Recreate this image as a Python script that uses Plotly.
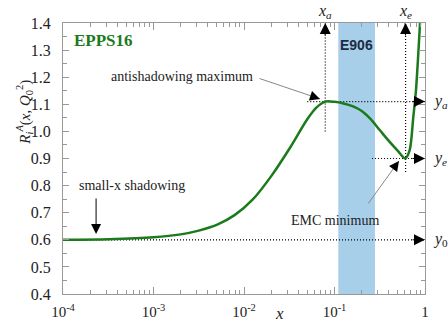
import math
import plotly.graph_objects as go

# ---- data ----
x_vals = [1e-4, 3.16e-4, 1e-3, 2.0e-3, 3.16e-3, 5.0e-3, 7.94e-3, 0.0126, 0.020, 0.0316,
          0.050, 0.063, 0.079, 0.100, 0.126, 0.158, 0.200, 0.251, 0.316, 0.398,
          0.501, 0.603, 0.676, 0.741, 0.794, 0.841, 0.881, 0.902]
r_vals = [0.600, 0.602, 0.609, 0.620, 0.634, 0.655, 0.692, 0.750, 0.835, 0.935,
          1.045, 1.088, 1.110, 1.109, 1.103, 1.093, 1.075, 1.045, 1.005, 0.965,
          0.928, 0.900, 0.930, 1.050, 1.150, 1.280, 1.400, 1.460]
e906_range = [0.11, 0.28]
x_a, y_a = 0.079, 1.11
x_e, y_e = 0.61, 0.90
y_0 = 0.60
x_ticks = [1e-4, 1e-3, 1e-2, 1e-1, 1]
x_ticktext = ["10<sup>-4</sup>", "10<sup>-3</sup>", "10<sup>-2</sup>", "10<sup>-1</sup>", "1"]
x_minor = [m * 10 ** d for d in range(-4, 0) for m in range(2, 10)]

GREEN = "#1b7a1b"
SERIF = "Liberation Serif, Times New Roman, serif"
L = math.log10

fig = go.Figure()

# E906 band
fig.add_shape(type="rect", xref="x", yref="paper", x0=e906_range[0], x1=e906_range[1],
              y0=0, y1=1, fillcolor="#a8cfea", line_width=0, layer="below")

dot = dict(color="black", width=1.2, dash="1px,2px")
# dotted guide lines
fig.add_trace(go.Scatter(x=[1e-4, 1], y=[y_0, y_0], mode="lines", line=dot, hoverinfo="skip"))
fig.add_trace(go.Scatter(x=[0.05, 1], y=[y_a, y_a], mode="lines", line=dot, hoverinfo="skip"))
fig.add_trace(go.Scatter(x=[0.26, 1], y=[y_e, y_e], mode="lines", line=dot, hoverinfo="skip"))
fig.add_trace(go.Scatter(x=[x_a, x_a], y=[1.0, 1.4], mode="lines", line=dot, hoverinfo="skip"))
fig.add_trace(go.Scatter(x=[x_e, x_e], y=[0.85, 1.4], mode="lines", line=dot, hoverinfo="skip"))

# curve
fig.add_trace(go.Scatter(x=x_vals, y=r_vals, mode="lines",
                         line=dict(color=GREEN, width=2.5, shape="spline", smoothing=0.8),
                         hoverinfo="skip"))

ann = []
def arrow(xh, yh, ax, ay, color="black", head=2, size=2.2, axref="pixel"):
    d = dict(x=L(xh), y=yh, xref="x", yref="y", text="", showarrow=True,
             arrowhead=head, arrowsize=size, arrowwidth=1, arrowcolor=color,
             ax=ax, ay=ay, standoff=0)
    if axref == "x":
        d.update(axref="x", ayref="y")
    ann.append(d)

# edge arrowheads
arrow(x_a, 1.4, 0, 14)
arrow(x_e, 1.4, 0, 14)
arrow(1, y_a, -14, 0)
arrow(1, y_e, -14, 0)
arrow(1, y_0, -14, 0)

# pointer arrows: gray shafts, black heads
arrow(0.069, 1.12, L(0.0143), 1.197, color="#888", head=0, axref="x")
arrow(0.069, 1.12, -8, -2.7, size=2.0)
arrow(2.32e-4, 0.621, L(2.32e-4), 0.758, color="black", size=2.0, axref="x")
arrow(0.516, 0.891, L(0.229), 0.728, color="#888", head=0, axref="x")
arrow(0.516, 0.891, -4.8, 6.6, size=2.0)

tf = dict(family=SERIF, size=14, color="#222")
def text(x, y, s, font=tf, **kw):
    d = dict(x=L(x), y=y, xref="x", yref="y", text=s, showarrow=False, font=font)
    d.update(kw)
    ann.append(d)

text(10 ** -2.68, 1.201, "antishadowing maximum")
text(10 ** -3.238, 0.799, "small-x shadowing")
text(10 ** -0.994, 0.673, "EMC minimum")
text(10 ** -0.762, 1.319, "<b>E906</b>", font=dict(family="Liberation Sans, Arial, sans-serif", size=14, color="#1c2c44"))
text(10 ** -3.90, 1.337, "<b>EPPS16</b>", font=dict(family=SERIF, size=17, color=GREEN), xanchor="left")

lf = dict(family=SERIF, size=16, color="#222")
text(x_a, 1.4, "<i>x</i><sub><i>a</i></sub>", font=lf, yanchor="bottom", yshift=0)
text(x_e, 1.4, "<i>x</i><sub><i>e</i></sub>", font=lf, yanchor="bottom", yshift=0)
text(1, y_a, "<i>y</i><sub><i>a</i></sub>", font=lf, xanchor="left", xshift=6)
text(1, y_e, "<i>y</i><sub><i>e</i></sub>", font=lf, xanchor="left", xshift=6)
text(1, y_0, "<i>y</i><sub>0</sub>", font=lf, xanchor="left", xshift=6)

ann.append(dict(x=-0.141, y=0.80, xref="paper", yref="paper", showarrow=False, textangle=-90,
                text="<i>R</i><sub><i>i</i></sub><sup><i>A</i></sup>(<i>x</i>, <i>Q</i><sub>0</sub><sup>2</sup>)",
                font=dict(family=SERIF, size=15, color="#222")))
ann.append(dict(x=0.597, y=-0.115, xref="paper", yref="paper", showarrow=False,
                text="<i>x</i>", font=dict(family=SERIF, size=17, color="#222")))

axis_common = dict(showline=True, linecolor="#999", linewidth=1, mirror="ticks",
                   ticks="inside", tickcolor="#999", showgrid=False, zeroline=False,
                   automargin=False)

fig.update_layout(
    width=448, height=324, margin=dict(l=63, r=23, t=23, b=30),
    paper_bgcolor="white", plot_bgcolor="white", showlegend=False,
    annotations=ann,
    xaxis=dict(type="log", range=[-4, 0], tickmode="array", tickvals=x_ticks, ticktext=x_ticktext,
               ticklen=7, ticklabelstandoff=4,
               tickfont=dict(family=SERIF, size=15, color="#222"),
               minor=dict(tickmode="array", tickvals=x_minor, ticks="inside", ticklen=4, tickcolor="#999"),
               **axis_common),
    yaxis=dict(range=[0.4, 1.4], dtick=0.1, tick0=0.4, tickformat=".1f", ticklen=6,
               ticklabelstandoff=8,
               tickfont=dict(family=SERIF, size=16, color="#222"),
               minor=dict(dtick=0.05, ticks="inside", ticklen=4, tickcolor="#999"),
               **axis_common),
)

fig.write_html("out.html")
